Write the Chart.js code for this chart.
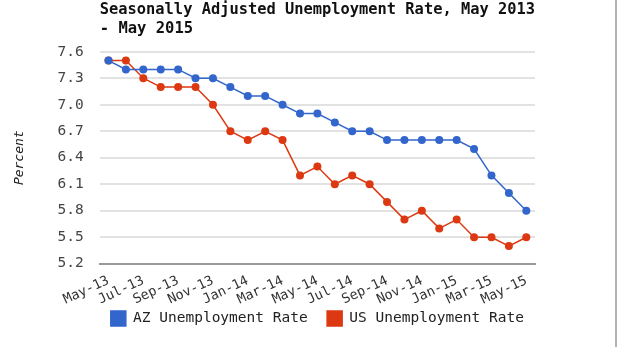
<!DOCTYPE html>
<html>
<head>
<meta charset="utf-8">
<script src="https://cdn.jsdelivr.net/npm/chart.js@4.4.0/dist/chart.umd.min.js"></script>
<style>
    html, body { margin: 0; padding: 0; background: #fff; }
    #wrap { position: relative; width: 617px; height: 347px; }
    #edge { position: absolute; left: 615px; top: 0; width: 2px; height: 347px; background: #b4b4b4; }
</style>
</head>
<body>
<div id="wrap">
    <canvas id="rateChart" width="617" height="347"></canvas>
    <div id="edge"></div>
</div>
<script>
const months = [
    'May-13', 'Jun-13', 'Jul-13', 'Aug-13', 'Sep-13', 'Oct-13', 'Nov-13', 'Dec-13',
    'Jan-14', 'Feb-14', 'Mar-14', 'Apr-14', 'May-14', 'Jun-14', 'Jul-14', 'Aug-14',
    'Sep-14', 'Oct-14', 'Nov-14', 'Dec-14', 'Jan-15', 'Feb-15', 'Mar-15', 'Apr-15', 'May-15'
];
const azRate = [7.5, 7.4, 7.4, 7.4, 7.4, 7.3, 7.3, 7.2, 7.1, 7.1, 7.0, 6.9, 6.9,
                6.8, 6.7, 6.7, 6.6, 6.6, 6.6, 6.6, 6.6, 6.5, 6.2, 6.0, 5.8];
const usRate = [7.5, 7.5, 7.3, 7.2, 7.2, 7.2, 7.0, 6.7, 6.6, 6.7, 6.6, 6.2, 6.3,
                6.1, 6.2, 6.1, 5.9, 5.7, 5.8, 5.6, 5.7, 5.5, 5.5, 5.4, 5.5];
const yTicks = [5.2, 5.5, 5.8, 6.1, 6.4, 6.7, 7.0, 7.3, 7.6];

const mono = 'DejaVu Sans Mono';

function series(label, data, color) {
    return {
        label: label,
        data: data,
        borderColor: color,
        backgroundColor: color,
        borderWidth: 1.5,
        pointRadius: 4,
        pointBorderWidth: 0,
        pointBackgroundColor: color,
        tension: 0
    };
}

new Chart(document.getElementById('rateChart'), {
    type: 'line',
    data: {
        labels: months,
        datasets: [
            series('AZ Unemployment Rate', azRate, '#3366cc'),
            series('US Unemployment Rate', usRate, '#dc3912')
        ]
    },
    options: {
        responsive: false,
        animation: false,
        layout: { padding: { left: 12, right: 82, top: 0, bottom: 11 } },
        scales: {
            x: {
                offset: true,
                grid: { display: false, drawTicks: false },
                border: { color: '#999', width: 2 },
                // the rotated labels need less room than Chart.js reserves
                afterFit: axis => { axis.height -= 8; },
                ticks: {
                    autoSkip: false,
                    maxRotation: 25,
                    minRotation: 25,
                    padding: 9,
                    color: '#333',
                    font: { family: mono, size: 13.5 },
                    callback: (value, index) => index % 2 === 0 ? months[index] : ''
                }
            },
            y: {
                min: 5.2,
                max: 7.6,
                afterBuildTicks: axis => { axis.ticks = yTicks.map(v => ({ value: v })); },
                grid: { color: '#e2e2e2', lineWidth: 2, drawTicks: false },
                border: { display: false },
                ticks: {
                    padding: 16,
                    color: '#444',
                    font: { family: mono, size: 14.5 },
                    callback: value => value.toFixed(1)
                },
                title: {
                    display: true,
                    text: 'Percent',
                    color: '#222',
                    padding: { top: 0, bottom: 14 },
                    font: { family: mono, size: 13, style: 'italic' }
                }
            }
        },
        plugins: {
            title: {
                display: true,
                fullSize: false,
                align: 'start',
                text: ['Seasonally Adjusted Unemployment Rate, May 2013', '- May 2015'],
                color: '#111',
                padding: { top: 0, bottom: 13 },
                font: { family: mono, size: 15.5, weight: 'bold', lineHeight: 1.25 }
            },
            legend: {
                position: 'bottom',
                fullSize: false,
                labels: {
                    boxWidth: 15,
                    boxHeight: 15,
                    padding: 2,
                    color: '#222',
                    font: { family: mono, size: 14.5 },
                    generateLabels: chart => {
                        const items = Chart.defaults.plugins.legend.labels.generateLabels(chart);
                        // widen the gap after the first entry
                        items[0].text += '  ';
                        return items;
                    }
                }
            },
            tooltip: { enabled: false }
        }
    }
});
</script>
</body>
</html>
